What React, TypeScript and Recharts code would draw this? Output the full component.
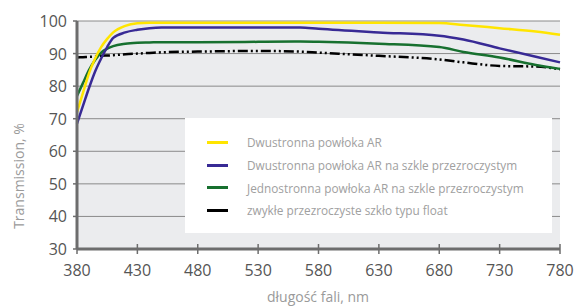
import React from "react";
import { LineChart, Line, XAxis, YAxis, CartesianGrid } from "recharts";

const wavelengths = [380, 385, 390, 395, 400, 405, 410, 420, 430, 440, 450, 480, 530, 565, 580, 630, 680, 700, 730, 760, 780];
const arBoth = [72, 78, 84, 88.5, 92, 94.5, 96.5, 98.5, 99.3, 99.5, 99.5, 99.5, 99.5, 99.5, 99.5, 99.5, 99.4, 98.8, 97.8, 96.8, 95.8];
const arBothClear = [68.5, 74, 79.5, 84.5, 88.5, 92, 94.8, 96.5, 97.3, 97.8, 98, 98, 98, 98, 97.6, 96.5, 95.5, 94.3, 91.6, 89, 87.3];
const arOneClear = [77, 81, 85, 88, 90.3, 91.5, 92.3, 93, 93.3, 93.4, 93.5, 93.5, 93.6, 93.7, 93.6, 93, 92, 90.5, 88.8, 86.5, 85.3];
const floatGlass = [88.8, 88.9, 89, 89.1, 89.3, 89.4, 89.5, 89.8, 90, 90.2, 90.4, 90.6, 90.8, 90.6, 90.3, 89.3, 88.2, 87.3, 86.2, 86, 85.2];

const xTicks = [380, 430, 480, 530, 580, 630, 680, 730, 780];
const yTicks = [30, 40, 50, 60, 70, 80, 90, 100];

const series = [
  { key: "float", name: "zwykłe przezroczyste szkło typu float", color: "#000000", dash: "10 3 2 3 2 3" },
  { key: "oneClear", name: "Jednostronna powłoka AR na szkle przezroczystym", color: "#17702f", dash: undefined },
  { key: "bothClear", name: "Dwustronna powłoka AR na szkle przezroczystym", color: "#382a95", dash: undefined },
  { key: "both", name: "Dwustronna powłoka AR", color: "#ffe500", dash: undefined },
];

const data = wavelengths.map((w, i) => ({
  w,
  both: arBoth[i],
  bothClear: arBothClear[i],
  oneClear: arOneClear[i],
  float: floatGlass[i],
}));

const FONT = "'Open Sans', sans-serif";

const XTick = (props: any) => {
  const { x, y, payload } = props;
  return (
    <g>
      <line x1={x} x2={x} y1={y - 5} y2={y + 5} stroke="#6d6d6d" strokeWidth={1.5} />
      <text x={x} y={y + 27} textAnchor="middle" fontSize={16} fill="#555" fontFamily={FONT}>
        {payload.value}
      </text>
    </g>
  );
};

const YTick = (props: any) => {
  const { x, y, payload } = props;
  return (
    <g>
      <line x1={x - 4} x2={x} y1={y} y2={y} stroke="#6d6d6d" strokeWidth={1.5} />
      <text x={x - 10} y={y + 6} textAnchor="end" fontSize={16} fill="#555" fontFamily={FONT}>
        {payload.value}
      </text>
    </g>
  );
};

const legendOrder = ["both", "bothClear", "oneClear", "float"];

export default function App() {
  return (
    <div style={{ position: "absolute", left: 0, top: 0, width: 579, height: 306, background: "#fff" }}>
      <LineChart width={579} height={306} data={data} margin={{ top: 21, right: 19, left: 0, bottom: 27 }}>
        <CartesianGrid vertical={false} fill="#ebecee" stroke="#8a8a8a" horizontalValues={[40, 50, 60, 70, 80, 90, 100]} />
        <XAxis
          dataKey="w"
          type="number"
          domain={[380, 780]}
          ticks={xTicks}
          height={30}
          axisLine={{ stroke: "#6d6d6d", strokeWidth: 3 }}
          tickLine={false}
          tickSize={0}
          tickMargin={0}
          tick={<XTick />}
          interval={0}
          label={{
            content: () => (
              <text x={318} y={302} textAnchor="middle" fontSize={14} fill="#9a9a9a" fontFamily={FONT}>
                długość fali, nm
              </text>
            ),
          }}
        />
        <YAxis
          type="number"
          domain={[30, 100]}
          ticks={yTicks}
          width={77}
          axisLine={{ stroke: "#6d6d6d", strokeWidth: 3 }}
          tickLine={false}
          tickSize={0}
          tickMargin={0}
          tick={<YTick />}
          interval={0}
          label={{
            content: () => (
              <text x={24} y={176} transform="rotate(-90 24 176)" textAnchor="middle" fontSize={14} fill="#9a9a9a" fontFamily={FONT}>
                Transmission, %
              </text>
            ),
          }}
        />
        {series.map((s) => (
          <Line
            key={s.key}
            type="monotone"
            dataKey={s.key}
            name={s.name}
            stroke={s.color}
            strokeWidth={2.5}
            strokeDasharray={s.dash}
            dot={false}
            isAnimationActive={false}
          />
        ))}
      </LineChart>
      <div
        style={{
          position: "absolute",
          left: 185,
          top: 118,
          width: 367,
          height: 115,
          background: "#fff",
          fontFamily: FONT,
          fontSize: 11.8,
          color: "#a0a0a0",
          boxSizing: "border-box",
          paddingTop: 13,
        }}
      >
        {legendOrder.map((k) => {
          const s = series.find((x) => x.key === k)!;
          return (
            <div key={k} style={{ display: "flex", alignItems: "center", height: 22.7 }}>
              <span style={{ display: "inline-block", width: 21, height: 3, background: s.color, marginLeft: 22, marginRight: 19 }} />
              <span>{s.name}</span>
            </div>
          );
        })}
      </div>
    </div>
  );
}
